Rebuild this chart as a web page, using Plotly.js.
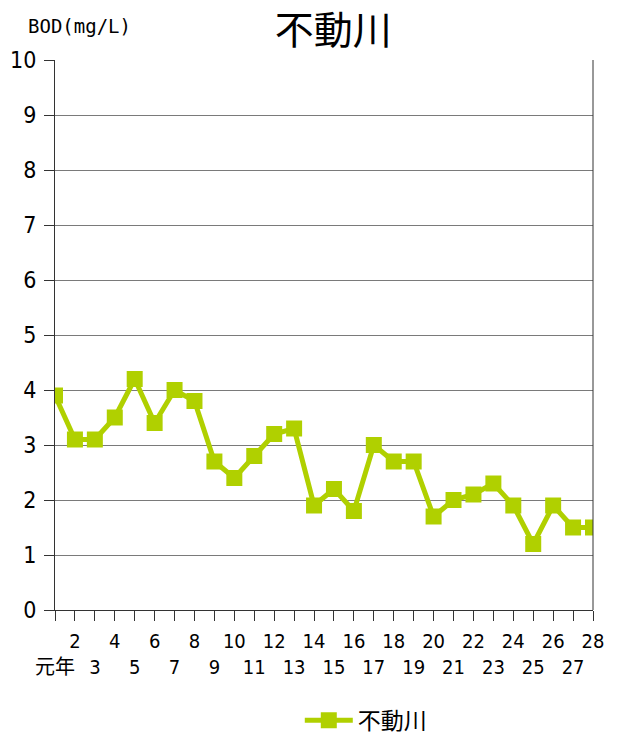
<!DOCTYPE html>
<html><head><meta charset="utf-8">
<script src="https://cdn.plot.ly/plotly-3.0.1.min.js"></script>
<style>body{margin:0;background:#fff}#c{width:624px;height:735px}</style>
</head><body><div id="c"></div>
<script>
const years = [1,2,3,4,5,6,7,8,9,10,11,12,13,14,15,16,17,18,19,20,21,22,23,24,25,26,27,28];
const yearLabels = ['元年','2','3','4','5','6','7','8','9','10','11','12','13','14','15','16','17','18','19','20','21','22','23','24','25','26','27','28'];
const bod = [3.9,3.1,3.1,3.5,4.2,3.4,4.0,3.8,2.7,2.4,2.8,3.2,3.3,1.9,2.2,1.8,3.0,2.7,2.7,1.7,2.0,2.1,2.3,1.9,1.2,1.9,1.5,1.5];
const seriesName = '不動川';
const yTicks = [0,1,2,3,4,5,6,7,8,9,10];

const FONT = '"DejaVu Sans Condensed", "Noto Sans CJK JP", sans-serif';
const MONO = '"DejaVu Sans Mono", monospace';
const CJK = '"Noto Sans CJK JP", sans-serif';
const green = '#b0d000';
const tickText = yearLabels.map((t,i)=> (i%2===0) ? '<br>'+t : t);

Plotly.newPlot('c', [{
  x: years, y: bod, name: seriesName, type: 'scatter', mode: 'lines+markers',
  line: {color: green, width: 5},
  marker: {symbol: 'square', size: 16, color: green}
}], {
  width: 624, height: 735,
  margin: {l: 55, r: 31, t: 60, b: 125},
  paper_bgcolor: '#fff', plot_bgcolor: '#fff',
  font: {family: FONT, color: '#000', size: 18},
  title: {text: '不動川', x: 0.517, xref: 'paper', y: 0.959, yref: 'container', yanchor: 'middle',
          font: {family: CJK, size: 39, color: '#000'}},
  showlegend: true,
  legend: {orientation: 'h', x: 0.455, xanchor: 'left', xref: 'paper', y: 0.02, yref: 'container', yanchor: 'middle',
           itemwidth: 48, font: {family: CJK, size: 23}},
  xaxis: {range: [1, 28], tickmode: 'array', tickvals: years, ticktext: tickText, tickangle: 0,
          showgrid: false, zeroline: false, showline: true, linecolor: '#333', linewidth: 1,
          ticks: 'outside', ticklen: 10, tickcolor: '#333', ticklabelstandoff: 3,
          tickfont: {family: FONT, size: 20}, fixedrange: true, automargin: false},
  yaxis: {range: [0, 10], tickmode: 'array', tickvals: yTicks, ticktext: yTicks.map(String),
          showgrid: true, gridcolor: '#7a7a7a', gridwidth: 1, zeroline: false,
          showline: true, linecolor: '#333', linewidth: 1,
          ticks: 'outside', ticklen: 10, tickcolor: '#333', ticklabelstandoff: 3,
          tickfont: {family: FONT, size: 23}, fixedrange: true, automargin: false},
  shapes: [{type: 'line', xref: 'paper', yref: 'paper', x0: 1, x1: 1, y0: 0, y1: 1,
            line: {color: '#333', width: 1}}],
  annotations: [{text: 'BOD(mg/L)', xref: 'paper', yref: 'paper', x: -0.054, xanchor: 'left',
                 y: 1.062, yanchor: 'middle', showarrow: false,
                 font: {family: MONO, size: 19, color: '#000'}}]
}, {displayModeBar: false, staticPlot: true});
</script></body></html>
